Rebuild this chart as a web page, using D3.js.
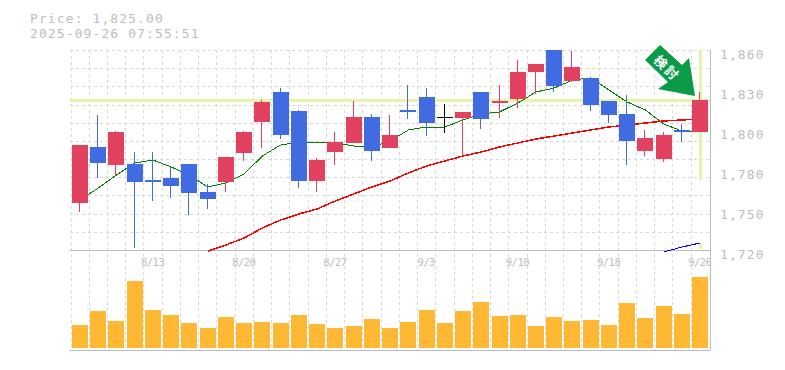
<!DOCTYPE html>
<html>
<head>
<meta charset="utf-8">
<title>Price chart</title>
<script src="https://cdn.jsdelivr.net/npm/d3@7"></script>
<style>
    html, body { margin: 0; padding: 0; background: #fff; }
    svg { display: block; }
    text { font-family: "DejaVu Sans Mono", monospace; fill: #bdbdbd; }
    .big-label { font-size: 13px; letter-spacing: 1.1px; }
    .small-label { font-size: 10.5px; letter-spacing: -0.5px; }
    .axis path, .axis line { display: none; }
    .grid line { stroke: #d9d9d9; stroke-dasharray: 3 3; shape-rendering: crispEdges; }
    .grid path { display: none; }
</style>
</head>
<body>
<div id="chart"></div>
<script>
const priceTitle = "Price: 1,825.00";
const timeTitle = "2025-09-26 07:55:51";
const arrowLabel = "検討";
const lastPrice = 1825;

const dates = ["8/6","8/7","8/8","8/12","8/13","8/14","8/15","8/18","8/19","8/20","8/21","8/22","8/25","8/26","8/27","8/28","8/29","9/1","9/2","9/3","9/4","9/5","9/8","9/9","9/10","9/11","9/12","9/16","9/17","9/18","9/19","9/22","9/24","9/25","9/26"];
const labelledDates = ["8/13","8/20","8/27","9/3","9/10","9/18","9/26"];

const opens = [1752.9,1792.1,1779.5,1780.2,1769,1770.4,1780.2,1760.6,1767.6,1787.9,1809.6,1830.6,1817.3,1768.3,1788.6,1794.9,1813.1,1791.4,1818,1827.1,1813.1,1812.4,1830.6,1822.9,1825.7,1844.6,1860.7,1838.3,1840.4,1824.3,1815.2,1789.3,1783.7,1804,1802.6];
const highs = [1793.5,1814.5,1803.3,1788.6,1788.6,1778.1,1780.2,1766.2,1785.1,1803.3,1825,1833.4,1818,1784.4,1802.6,1824.3,1815.2,1814.5,1835.5,1833.4,1822.2,1816.6,1830.6,1835.5,1853,1850.2,1860.7,1859.3,1841.1,1824.3,1828.5,1804,1802.6,1808.2,1830.6];
const lows = [1746.6,1770.4,1771.8,1721.4,1754.3,1756.4,1744.5,1748.7,1760.6,1782.3,1791.4,1797.7,1763.4,1760.6,1779.5,1794.9,1782.3,1791.4,1811.7,1799.8,1801.9,1785.8,1804.7,1812.4,1819.4,1829.2,1830.6,1837.6,1817.3,1808.9,1779.5,1785.8,1781.6,1795.6,1802.6];
const closes = [1793.5,1780.9,1802.6,1767.6,1767.6,1764.8,1759.9,1755.7,1785.1,1802.6,1823.6,1800.5,1768.3,1783,1795.6,1813.1,1789.3,1800.5,1816.6,1808.9,1813.1,1816.6,1811.7,1824.3,1844.6,1850.2,1834.8,1848.1,1821.5,1814.5,1796.3,1798.4,1800.5,1802.6,1825];
const volumes = [230,370,270,670,380,330,250,200,310,250,260,250,330,240,200,220,290,200,260,380,250,370,460,320,330,220,310,270,280,230,450,300,420,340,710];

const maShort = [1755,1763.4,1772.5,1780.9,1783,1778.1,1772.5,1764.1,1766.9,1773.2,1785.8,1793.5,1795.6,1795.6,1794.9,1792.8,1792.1,1796.3,1804,1806.1,1806.1,1811,1815.2,1816.6,1822.9,1830.6,1833.4,1839,1840.4,1832,1823.6,1818,1808.2,1803.3,1803.3];
const maMid = [null,null,null,null,null,null,null,1719.3,1723.5,1728.4,1735.4,1741,1745.2,1748.7,1754.3,1759.2,1764.1,1768.3,1773.9,1778.8,1782.3,1785.8,1788.6,1792.1,1794.9,1797.7,1799.8,1801.9,1804,1806.1,1807.5,1808.9,1810.3,1811,1811.7];
const maLong = [null,null,null,null,null,null,null,null,null,null,null,null,null,null,null,null,null,null,null,null,null,null,null,null,null,null,null,null,null,null,null,null,1718.6,1722.1,1724.9];

const priceTicks = [1860,1832,1804,1776,1748,1720];
const priceTickLabels = ["1,860","1,830","1,800","1,780","1,750","1,720"];
const priceGrid = [1860,1847.27,1834.55,1821.82,1809.09,1796.36,1783.64,1770.91,1758.18,1745.45,1732.73,1720];

const upColor = "#e2425f";
const downColor = "#416ce1";
const flatColor = "#000";
const volumeColor = "#ffb833";
const priceLineColor = "#e6f3a8";

const width = 785, height = 370;
const plot = {left: 70, right: 710, top: 50, priceBottom: 250, volBottom: 350};

const svg = d3.select("#chart").append("svg")
    .attr("width", width)
    .attr("height", height);

const x = d3.scaleBand().domain(dates).range([plot.left + 0.5, plot.left + 0.5 + 18.24 * dates.length]);
const y = d3.scaleLinear().domain([1720, 1860]).range([plot.priceBottom, plot.top]);
const yVol = d3.scaleLinear().domain([0, 710]).range([348, 277]);

// grid
svg.append("g").attr("class", "grid")
    .attr("transform", `translate(${plot.left}, 0)`)
    .call(d3.axisLeft(y).tickValues(priceGrid).tickSize(-(plot.right - plot.left)).tickFormat(""));

svg.append("g").attr("class", "grid").selectAll("line")
    .data(dates)
    .join("line")
    .attr("x1", d => Math.round(x(d)) + 0.5)
    .attr("x2", d => Math.round(x(d)) + 0.5)
    .attr("y1", plot.top)
    .attr("y2", plot.volBottom);

// panel edges
const edge = svg.append("g").attr("stroke", "#bbb").attr("stroke-width", 1).attr("shape-rendering", "crispEdges");
edge.append("line").attr("x1", plot.left).attr("x2", plot.right).attr("y1", plot.priceBottom + 0.5).attr("y2", plot.priceBottom + 0.5);
edge.append("line").attr("x1", plot.left).attr("x2", plot.right).attr("y1", plot.volBottom + 0.5).attr("y2", plot.volBottom + 0.5);
edge.append("line").attr("x1", plot.right + 0.5).attr("x2", plot.right + 0.5).attr("y1", plot.top).attr("y2", plot.volBottom);

// current price lines
const priceLines = svg.append("g").attr("stroke", priceLineColor).attr("stroke-width", 3).attr("shape-rendering", "crispEdges");
priceLines.append("line")
    .attr("x1", plot.left).attr("x2", plot.right)
    .attr("y1", y(lastPrice) + 0.5).attr("y2", y(lastPrice) + 0.5);
priceLines.append("line")
    .attr("x1", x(dates[34]) + 10).attr("x2", x(dates[34]) + 10)
    .attr("y1", plot.top).attr("y2", plot.priceBottom - 1)
    .attr("stroke-dasharray", "130 63 10");

svg.append("defs").append("clipPath").attr("id", "plot-clip")
    .append("rect").attr("x", plot.left).attr("y", plot.top).attr("width", plot.right - plot.left).attr("height", 203);

// moving averages
const line = d3.line()
    .defined(d => d.v !== null)
    .x(d => x(d.date) + 9.5)
    .y(d => y(d.v));

[[maShort, "#008000", 1], [maMid, "#ff0000", 1.5], [maLong, "#0000ff", 1]].forEach(([values, color, w]) => {
    svg.append("path")
        .datum(values.map((v, i) => ({date: dates[i], v: v})))
        .attr("d", line)
        .attr("fill", "none")
        .attr("stroke", color)
        .attr("stroke-width", w)
        .attr("shape-rendering", "crispEdges")
        .attr("clip-path", "url(#plot-clip)");
});

// candles
const candleColor = i => closes[i] > opens[i] ? upColor : closes[i] < opens[i] ? downColor : flatColor;
const barLeft = d => Math.round(x(d) + 1.5);

const candles = svg.append("g").attr("shape-rendering", "crispEdges").attr("clip-path", "url(#plot-clip)");
candles.selectAll(".wick")
    .data(dates)
    .join("rect")
    .attr("class", "wick")
    .attr("x", d => barLeft(d) + 7)
    .attr("width", 1)
    .attr("y", (d, i) => y(highs[i]))
    .attr("height", (d, i) => y(lows[i]) - y(highs[i]))
    .attr("fill", (d, i) => candleColor(i));
candles.selectAll(".body")
    .data(dates)
    .join("rect")
    .attr("class", "body")
    .attr("x", barLeft)
    .attr("width", 16)
    .attr("y", (d, i) => y(Math.max(opens[i], closes[i])))
    .attr("height", (d, i) => Math.max(1, Math.abs(y(opens[i]) - y(closes[i]))))
    .attr("fill", (d, i) => candleColor(i));

// volume
svg.append("g").attr("shape-rendering", "crispEdges").selectAll("rect")
    .data(dates)
    .join("rect")
    .attr("x", barLeft)
    .attr("width", 16)
    .attr("y", (d, i) => yVol(volumes[i]))
    .attr("height", (d, i) => yVol(0) - yVol(volumes[i]))
    .attr("fill", volumeColor);

// axes
const yAxis = svg.append("g").attr("class", "axis")
    .attr("transform", `translate(${plot.right}, 0)`)
    .call(d3.axisRight(y).tickValues(priceTicks).tickSize(0).tickPadding(10)
        .tickFormat((d, i) => priceTickLabels[i]));
yAxis.selectAll("text").attr("dy", 8).attr("class", "big-label").attr("font-size", null).attr("font-family", null);
yAxis.attr("font-size", null).attr("font-family", null);

const xAxis = svg.append("g").attr("class", "axis")
    .attr("transform", `translate(0, ${plot.priceBottom})`)
    .call(d3.axisBottom(x).tickValues(labelledDates).tickSize(0).tickPadding(0));
xAxis.selectAll("text").attr("y", 16).attr("dy", 0).attr("class", "small-label");
xAxis.attr("font-size", null).attr("font-family", null);

// header
svg.append("text").attr("class", "big-label").attr("x", 30).attr("y", 23).text(priceTitle);
svg.append("text").attr("class", "big-label").attr("x", 30).attr("y", 38).text(timeTitle);

// arrow marker
const arrow = svg.append("g");
arrow.append("polygon")
    .attr("points", "660,45 645,60 668,82 658,89 695,96 689,58 682,65")
    .attr("fill", "#0a9a48");
arrow.append("text")
    .attr("transform", "translate(667, 68) rotate(45)")
    .attr("text-anchor", "middle")
    .attr("dy", 5)
    .style("font-family", '"Noto Sans CJK JP"')
    .style("font-size", "13px")
    .style("letter-spacing", "2px")
    .style("font-weight", "bold")
    .style("fill", "#fff")
    .text(arrowLabel);
</script>
</body>
</html>
